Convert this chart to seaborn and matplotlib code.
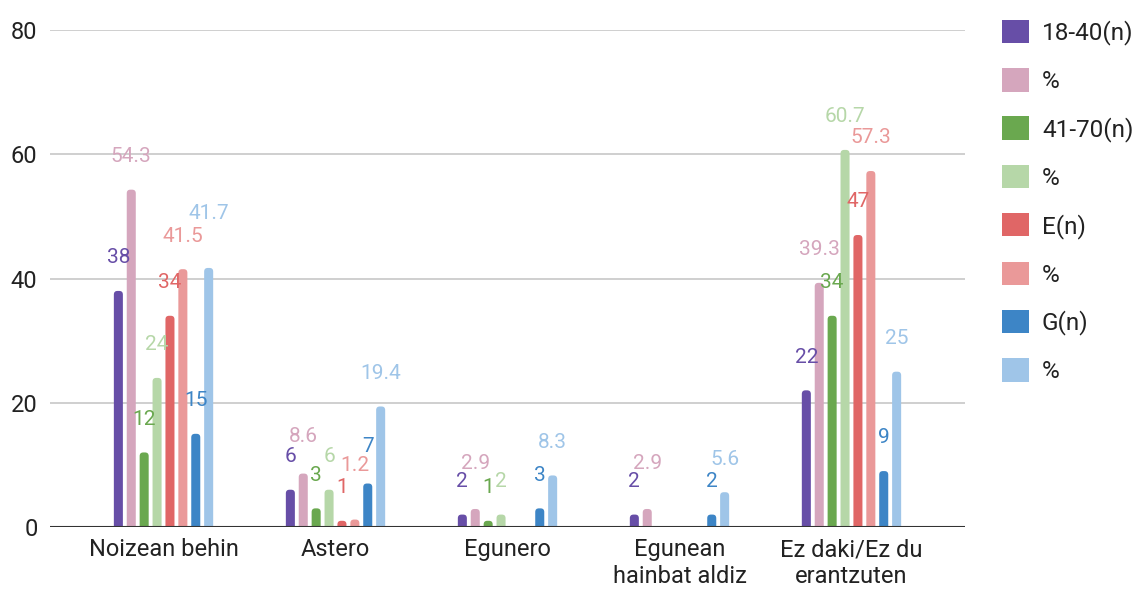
import numpy as np
import pandas as pd
import matplotlib.pyplot as plt
import seaborn as sns
from matplotlib.patches import FancyBboxPatch

categories = ["Noizean behin", "Astero", "Egunero",
              "Egunean\nhainbat aldiz", "Ez daki/Ez du\nerantzuten"]

young_n = [38, 6, 2, 2, 22]
young_pct = [54.3, 8.6, 2.9, 2.9, 39.3]
mid_n = [12, 3, 1, np.nan, 34]
mid_pct = [24, 6, 2, np.nan, 60.7]
e_n = [34, 1, np.nan, np.nan, 47]
e_pct = [41.5, 1.2, np.nan, np.nan, 57.3]
g_n = [15, 7, 3, 2, 9]
g_pct = [41.7, 19.4, 8.3, 5.6, 25]

series_keys = ["18-40(n)", "18-40 %", "41-70(n)", "41-70 %", "E(n)", "E %", "G(n)", "G %"]
legend_labels = ["18-40(n)", "%", "41-70(n)", "%", "E(n)", "%", "G(n)", "%"]
colors = ["#674ea7", "#d5a6bd", "#6aa84f", "#b6d7a8",
          "#e06666", "#ea9999", "#3d85c6", "#9fc5e8"]

series_values = [young_n, young_pct, mid_n, mid_pct, e_n, e_pct, g_n, g_pct]
rows = []
for key, vals in zip(series_keys, series_values):
    for cat, v in zip(categories, vals):
        rows.append({"category": cat, "series": key, "value": v})
df = pd.DataFrame(rows)

sns.set_style("white")
plt.rcParams['font.family'] = ['Roboto', 'DejaVu Sans']

fig = plt.figure(figsize=(11.39, 5.89), dpi=100)
ax = fig.add_axes([50 / 1139, 1 - 527 / 589, 915 / 1139, 497 / 589])

sns.barplot(data=df, x="category", y="value", hue="series", order=categories,
            hue_order=series_keys, palette=colors, width=0.6, gap=0.3,
            saturation=1, errorbar=None, ax=ax, zorder=3)

ax.set_xlim(-0.66, 4.66)
ax.set_ylim(0, 80)

# rounded bar tops (bottom corners pushed below the axis and clipped)
aspect = (80 / 497) / (5.32 / 915)
for bar in list(ax.patches):
    x, w, h = bar.get_x(), bar.get_width(), bar.get_height()
    if not np.isfinite(h) or h <= 0:
        continue
    fc = bar.get_facecolor()
    bar.set_visible(False)
    r = w * 0.4
    ry = r * aspect
    rb = FancyBboxPatch((x, -ry), w, h + ry, boxstyle=f"round,pad=0,rounding_size={r}",
                        mutation_aspect=aspect, facecolor=fc, edgecolor="none", zorder=3)
    ax.add_patch(rb)

texts = []
for container, col in zip(ax.containers, colors):
    labels = [f"{b.get_height():g}" if np.isfinite(b.get_height()) else "" for b in container]
    texts.extend(ax.bar_label(container, labels=labels, padding=17, color=col,
                              fontsize=15, zorder=4))

# simple collision avoidance: push overlapping labels upward
fig.canvas.draw()
renderer = fig.canvas.get_renderer()
texts = [t for t in texts if t.get_text()]
texts.sort(key=lambda t: t.xy[0])
placed = []
for t in texts:
    for _ in range(40):
        bb = t.get_window_extent(renderer).expanded(1.0, 0.9)
        if any(bb.overlaps(p) for p in placed):
            t.xyann = (t.xyann[0], t.xyann[1] + 3)
        else:
            break
    placed.append(t.get_window_extent(renderer))

ax.set_yticks([0, 20, 40, 60, 80])
ax.grid(axis="y", color="#cccccc", linewidth=1.3, zorder=0)
ax.axhline(0, color="#333333", linewidth=1.5, zorder=5)
for s in ax.spines.values():
    s.set_visible(False)
ax.set_xlabel("")
ax.set_ylabel("")
ax.tick_params(axis="both", length=0, labelsize=17, colors="#222222")
ax.tick_params(axis="y", pad=9)
ax.tick_params(axis="x", pad=8)
for t in ax.get_xticklabels():
    t.set_linespacing(1.22)

ax.get_legend().remove()
handles = [plt.Rectangle((0, 0), 1, 1, facecolor=c, edgecolor="none") for c in colors]
fig.legend(handles, legend_labels, loc="upper left", bbox_to_anchor=(980 / 1139, 1 + 2 / 589),
           frameon=False, fontsize=17.5, handlelength=1.1, handleheight=1.1,
           labelspacing=0.95, handletextpad=0.55, labelcolor="#222222")

fig.savefig("out.png", dpi=100)
